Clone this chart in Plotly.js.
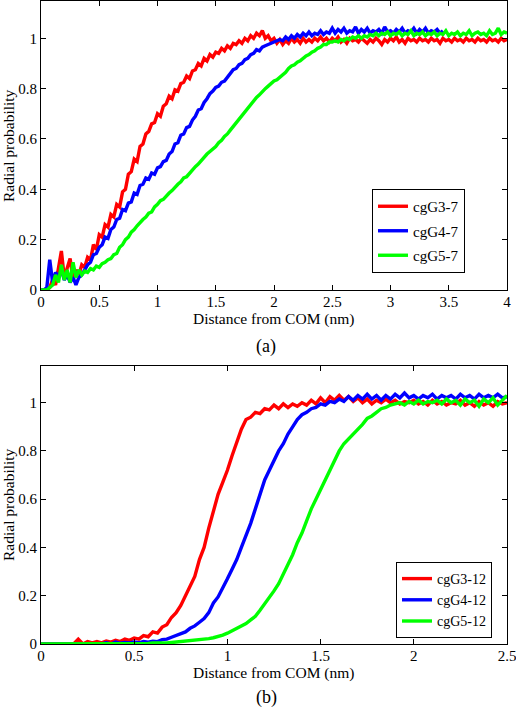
<!DOCTYPE html>
<html>
<head>
<meta charset="utf-8">
<script src="https://cdn.plot.ly/plotly-3.0.1.min.js"></script>
<style>html,body{margin:0;padding:0;background:#fff;}#chart{width:516px;height:707px;}</style>
</head>
<body>
<div id="chart"></div>
<script>
// ---------- data ----------
const xTop = [0,0.025,0.05,0.075,0.1,0.125,0.15,0.175,0.2,0.225,0.25,0.275,0.3,0.325,0.35,0.375,0.4,0.425,0.45,0.475,
0.5,0.525,0.55,0.575,0.6,0.625,0.65,0.675,0.7,0.725,0.75,0.775,0.8,0.825,0.85,0.875,0.9,0.925,0.95,0.975,
1,1.025,1.05,1.075,1.1,1.125,1.15,1.175,1.2,1.225,1.25,1.275,1.3,1.325,1.35,1.375,1.4,1.425,1.45,1.475,
1.5,1.525,1.55,1.575,1.6,1.625,1.65,1.675,1.7,1.725,1.75,1.775,1.8,1.825,1.85,1.875,1.9,1.925,1.95,1.975,
2,2.025,2.05,2.075,2.1,2.125,2.15,2.175,2.2,2.225,2.25,2.275,2.3,2.325,2.35,2.375,2.4,2.425,2.45,2.475,
2.5,2.525,2.55,2.575,2.6,2.625,2.65,2.675,2.7,2.725,2.75,2.775,2.8,2.825,2.85,2.875,2.9,2.925,2.95,2.975,
3,3.025,3.05,3.075,3.1,3.125,3.15,3.175,3.2,3.225,3.25,3.275,3.3,3.325,3.35,3.375,3.4,3.425,3.45,3.475,
3.5,3.525,3.55,3.575,3.6,3.625,3.65,3.675,3.7,3.725,3.75,3.775,3.8,3.825,3.85,3.875,3.9,3.925,3.95,3.975,4];

const cgG3_7 = [0,0,0,0.01,0.04,0.02,0.08,0.155,0.05,0.09,0.125,0.04,0.08,0.06,0.10,0.09,0.13,0.12,0.18,0.16,
0.22,0.21,0.26,0.25,0.30,0.29,0.34,0.33,0.39,0.40,0.46,0.47,0.52,0.51,0.57,0.58,0.62,0.63,0.66,0.665,
0.70,0.69,0.73,0.74,0.77,0.76,0.795,0.79,0.82,0.825,0.85,0.84,0.87,0.875,0.90,0.89,0.92,0.91,0.935,0.925,
0.945,0.94,0.96,0.95,0.97,0.96,0.98,0.975,0.99,0.98,1.0,0.99,1.01,1.0,1.02,1.01,1.03,1.0,1.01,0.99,
1.0,0.98,0.995,0.975,0.99,0.98,1.0,0.985,0.995,0.98,1.0,0.985,0.995,0.985,1.0,0.99,1.005,0.99,1.0,0.985,
1.0,0.99,1.005,0.985,0.995,0.98,1.0,0.99,0.995,0.985,1.0,
0.99,0.98,0.995,0.985,1.0,0.99,0.975,0.995,0.985,1.0,
0.99,1.005,0.985,0.995,0.98,1.0,0.99,0.995,0.985,1.0,
0.99,0.995,0.985,1.0,0.99,0.995,0.98,1.0,0.99,0.995,
0.985,1.0,0.99,0.995,0.985,1.0,0.99,0.995,0.985,1.0,
0.99,0.995,0.985,1.0,0.99,0.995,0.985,1.0,0.99,0.995];

const cgG4_7 = [0,0,0.01,0.12,0.03,0.07,0.05,0.08,0.04,0.06,0.03,0.05,0.02,0.05,0.06,0.08,0.10,0.11,0.14,0.145,
0.17,0.18,0.21,0.205,0.24,0.25,0.28,0.285,0.32,0.315,0.345,0.35,0.385,0.38,0.415,0.42,0.445,0.44,0.465,0.46,
0.485,0.49,0.51,0.515,0.54,0.55,0.58,0.585,0.615,0.62,0.645,0.65,0.675,0.69,0.715,0.72,0.745,0.76,0.78,0.79,
0.805,0.81,0.825,0.83,0.845,0.855,0.875,0.88,0.895,0.9,0.915,0.92,0.935,0.94,0.955,0.95,0.965,0.97,0.975,0.98,
0.985,0.99,0.995,0.99,1.005,0.995,1.01,1.0,1.015,1.005,1.02,1.01,1.025,1.01,1.02,1.015,1.03,1.015,1.025,1.02,
1.04,
1.02,1.035,1.025,1.04,1.02,1.03,1.025,1.045,1.02,1.035,
1.025,1.04,1.02,1.03,1.025,1.035,1.02,1.045,1.025,1.03,
1.02,1.035,1.025,1.04,1.02,1.03,1.025,1.04,1.02,1.035,
1.025,1.04,1.02,1.03,1.025,1.035,1.02,1.03];

const cgG5_7 = [0,0,0,0.01,0.02,0.06,0.03,0.10,0.04,0.08,0.03,0.11,0.05,0.08,0.06,0.075,0.07,0.085,0.08,0.095,
0.09,0.105,0.11,0.12,0.125,0.14,0.145,0.17,0.18,0.20,0.21,0.23,0.24,0.255,0.27,0.28,0.29,0.305,0.31,0.33,
0.34,0.355,0.36,0.375,0.385,0.395,0.41,0.42,0.43,0.445,0.45,0.465,0.475,0.49,0.50,0.515,0.525,0.54,0.55,0.56,
0.57,0.585,0.595,0.61,0.62,0.635,0.65,0.665,0.68,0.695,0.71,0.72,0.735,0.75,0.765,0.775,0.79,0.80,0.81,0.82,
0.83,0.835,0.845,0.855,0.865,0.88,0.89,0.895,0.905,0.91,0.92,0.93,0.935,0.945,0.95,0.96,0.965,0.975,0.975,0.985,
0.985,
0.99,0.985,0.995,0.99,1.0,0.995,1.005,1.0,1.01,1.0,
1.01,1.005,1.015,1.01,1.02,1.01,1.02,1.015,1.025,1.01,
1.02,1.015,1.025,1.01,1.02,1.015,1.03,1.01,1.02,1.015,
1.025,1.01,1.02,1.015,1.025,1.01,1.02,1.015,1.03,1.01,
1.02,1.015,1.025,1.01,1.02,1.015,1.03,1.01,1.02,1.025,
1.015,1.02,1.01,1.03,1.015,1.02,1.04,1.015,1.025,1.02];

const xBot = [0,0.025,0.05,0.075,0.1,0.125,0.15,0.175,0.2,0.225,0.25,0.275,0.3,0.325,0.35,0.375,0.4,0.425,0.45,0.475,
0.5,0.525,0.55,0.575,0.6,0.625,0.65,0.675,0.7,0.725,0.75,0.775,0.8,0.825,0.85,0.875,0.9,0.925,0.95,0.975,
1,1.025,1.05,1.075,1.1,1.125,1.15,1.175,1.2,1.225,1.25,1.275,1.3,1.325,1.35,1.375,1.4,1.425,1.45,1.475,
1.5,1.525,1.55,1.575,1.6,1.625,1.65,1.675,1.7,1.725,1.75,1.775,1.8,1.825,1.85,1.875,1.9,1.925,1.95,1.975,
2,2.025,2.05,2.075,2.1,2.125,2.15,2.175,2.2,2.225,2.25,2.275,2.3,2.325,2.35,2.375,2.4,2.425,2.45,2.475,2.5];

const cgG3_12 = [0,0,0,0,0,0,0,0,0.02,0.0,0.01,0.005,0.01,0.005,0.012,0.008,0.015,0.01,0.02,0.015,
0.025,0.02,0.035,0.03,0.05,0.045,0.07,0.08,0.11,0.13,0.16,0.20,0.24,0.28,0.35,0.40,0.48,0.55,0.62,0.67,
0.72,0.78,0.84,0.89,0.93,0.94,0.96,0.955,0.975,0.97,0.99,0.975,0.995,0.98,0.995,0.985,1.0,0.99,1.01,0.995,
1.02,1.0,1.025,1.01,1.03,1.01,1.025,1.005,1.02,1.0,1.015,0.995,1.01,1.0,1.015,1.0,1.01,0.995,1.005,1.0,
1.01,0.995,1.005,0.99,1.01,0.995,1.005,0.99,1.0,0.995,1.01,0.99,1.0,0.985,1.005,0.99,1.0,0.985,1.005,0.995,1.0];

const cgG4_12 = [0,0,0,0,0,0,0,0,0,0,0,0,0,0,0.005,0.0,0.008,0.003,0.006,0.004,
0.008,0.005,0.01,0.008,0.012,0.01,0.018,0.02,0.028,0.035,0.045,0.05,0.065,0.075,0.09,0.105,0.13,0.17,0.195,0.23,
0.27,0.31,0.35,0.40,0.45,0.50,0.56,0.62,0.68,0.72,0.76,0.80,0.83,0.87,0.90,0.93,0.95,0.96,0.975,0.98,
0.995,0.99,1.005,1.0,1.015,1.005,1.025,1.01,1.03,1.015,1.035,1.015,1.03,1.01,1.03,1.015,1.035,1.02,1.04,1.02,
1.03,1.015,1.03,1.02,1.035,1.015,1.03,1.02,1.03,1.015,1.035,1.02,1.03,1.015,1.035,1.02,1.03,1.02,1.035,1.02,1.025];

const cgG5_12 = [0,0,0,0,0,0,0,0,0,0,0,0,0,0,0,0,0,0,0,0,
0.002,0.0,0.003,0.002,0.004,0.003,0.005,0.004,0.006,0.008,0.008,0.01,0.012,0.015,0.018,0.02,0.022,0.026,0.03,0.037,
0.045,0.055,0.065,0.075,0.085,0.10,0.115,0.14,0.165,0.19,0.22,0.25,0.29,0.33,0.37,0.42,0.46,0.51,0.56,0.60,
0.64,0.68,0.72,0.76,0.80,0.83,0.85,0.875,0.89,0.91,0.935,0.945,0.96,0.975,0.98,0.99,0.995,1.0,0.99,1.005,
0.995,1.01,0.995,1.005,1.0,1.01,0.995,1.015,1.0,1.01,0.99,1.015,1.0,1.01,0.985,1.015,1.0,1.02,0.99,1.01,1.03];

const namesTop = ['cgG3-7','cgG4-7','cgG5-7'];
const namesBot = ['cgG3-12','cgG4-12','cgG5-12'];
const colors = ['#ff0000','#0000ff','#00ff00'];

const yTickVals = [0,0.2,0.4,0.6,0.8,1];
const yTickText = ['0','0.2','0.4','0.6','0.8','1'];
const xTopTickVals = [0,0.5,1,1.5,2,2.5,3,3.5,4];
const xTopTickText = ['0','0.5','1','1.5','2','2.5','3','3.5','4'];
const xBotTickVals = [0,0.5,1,1.5,2,2.5];
const xBotTickText = ['0','0.5','1','1.5','2','2.5'];

// ---------- traces ----------
const FONT = 'Liberation Serif';
const topSeries = [cgG3_7, cgG4_7, cgG5_7];
const botSeries = [cgG3_12, cgG4_12, cgG5_12];
const traces = [];
topSeries.forEach((ys, i) => traces.push({
  x: xTop, y: ys, type: 'scatter', mode: 'lines', name: namesTop[i],
  line: {color: colors[i], width: 3.4}, xaxis: 'x', yaxis: 'y',
  legend: 'legend', legendgroup: 't' + i
}));
botSeries.forEach((ys, i) => traces.push({
  x: xBot, y: ys, type: 'scatter', mode: 'lines', name: namesBot[i],
  line: {color: colors[i], width: 3.4}, xaxis: 'x2', yaxis: 'y2',
  legend: 'legend2'
}));

const W = 516, H = 707;
const px = v => v / W;
const py = v => 1 - v / H;

const axBase = {
  showline: true, linecolor: '#000', linewidth: 1, mirror: 'ticks',
  ticks: 'inside', ticklen: 5, tickcolor: '#000', tickwidth: 1,
  showgrid: false, zeroline: false, tickmode: 'array', ticklabeloverflow: 'allow',
  tickfont: {family: FONT, size: 15, color: '#000'}, fixedrange: true
};
const xAxBase = Object.assign({}, axBase, {ticklabelstandoff: -2});

const legBase = {
  bgcolor: '#fff', bordercolor: '#000', borderwidth: 1,
  xanchor: 'left', yanchor: 'top', itemwidth: 30
};

const annBase = {xref: 'paper', yref: 'paper', showarrow: false,
  font: {family: FONT, size: 15.5, color: '#000'}, xanchor: 'center', yanchor: 'middle'};

const layout = {
  width: W, height: H, margin: {l: 0, r: 0, t: 0, b: 0},
  paper_bgcolor: '#fff', plot_bgcolor: '#fff', showlegend: true,
  font: {family: FONT, size: 15, color: '#000'},
  xaxis: Object.assign({}, xAxBase, {domain: [px(41), px(507)], range: [0, 4], anchor: 'y',
    tickvals: xTopTickVals, ticktext: xTopTickText}),
  yaxis: Object.assign({}, axBase, {domain: [py(290), py(1)], range: [0, 1.148], anchor: 'x',
    tickvals: yTickVals, ticktext: yTickText}),
  xaxis2: Object.assign({}, xAxBase, {domain: [px(41), px(507)], range: [0, 2.5], anchor: 'y2',
    tickvals: xBotTickVals, ticktext: xBotTickText}),
  yaxis2: Object.assign({}, axBase, {domain: [py(644), py(366)], range: [0, 1.152], anchor: 'x2',
    tickvals: yTickVals, ticktext: yTickText}),
  legend: Object.assign({}, legBase, {x: px(372), y: py(189), traceorder: 'grouped', tracegroupgap: 2,
    font: {family: FONT, size: 15, color: '#000'}}),
  legend2: Object.assign({}, legBase, {x: px(396), y: py(562), traceorder: 'normal',
    font: {family: FONT, size: 14, color: '#000'}}),
  annotations: [
    Object.assign({}, annBase, {text: 'Distance from COM (nm)', x: px(273), y: py(319)}),
    Object.assign({}, annBase, {text: '(a)', x: px(266), y: py(346), font: {family: FONT, size: 18, color: '#000'}}),
    Object.assign({}, annBase, {text: 'Radial probability', x: px(8), y: py(146), textangle: -90}),
    Object.assign({}, annBase, {text: 'Distance from COM (nm)', x: px(273), y: py(673)}),
    Object.assign({}, annBase, {text: '(b)', x: px(266), y: py(697), font: {family: FONT, size: 18, color: '#000'}}),
    Object.assign({}, annBase, {text: 'Radial probability', x: px(8), y: py(505), textangle: -90})
  ]
};

Plotly.newPlot('chart', traces, layout, {staticPlot: true, displayModeBar: false});
</script>
</body>
</html>
